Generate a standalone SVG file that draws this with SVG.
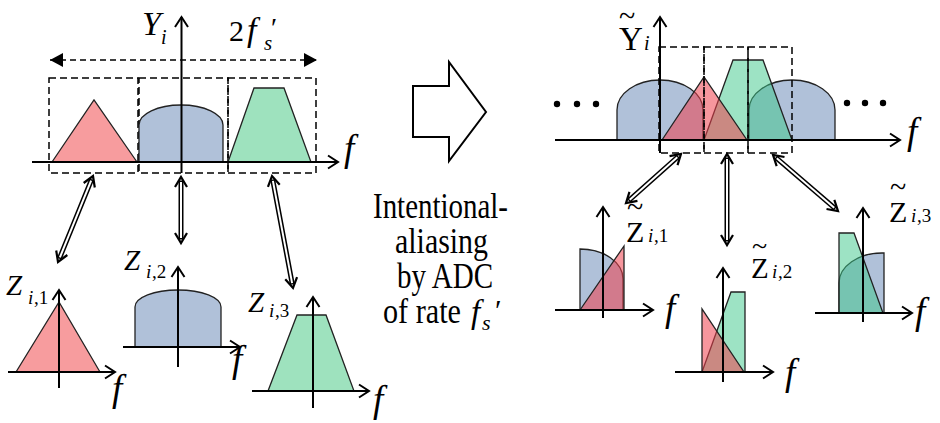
<svg xmlns="http://www.w3.org/2000/svg" width="940" height="423" viewBox="0 0 940 423">
<style>
.ax{stroke:#000;stroke-width:2;fill:none;marker-end:url(#chev)}
.dash{stroke:#000;stroke-width:1.5;fill:none;stroke-dasharray:7 4}
.sh{stroke:#222;stroke-width:1.3}
.red{fill:#F79C9E}
.blue{fill:#B0C1D9}
.green{fill:#9EE2BE}
.redT{fill:#EE3F4C;fill-opacity:0.55}
.greenT{fill:#3CC88A;fill-opacity:0.5}
.blk{stroke:#000;stroke-width:5;fill:none}
.wht{stroke:#fff;stroke-width:2;fill:none}
.tips{stroke:none;fill:none;marker-start:url(#chev2);marker-end:url(#chev2)}
text{font-family:"Liberation Serif","Times New Roman",serif;fill:#000}
.it{font-style:italic}
</style>
<defs>
<marker id="chev" markerUnits="userSpaceOnUse" markerWidth="30" markerHeight="30" viewBox="-15 -15 30 30" refX="0" refY="0" orient="auto" overflow="visible"><path d="M-10,-6.5 L0,0 L-10,6.5" fill="none" stroke="#000" stroke-width="2"/></marker>
<marker id="chev2" markerUnits="userSpaceOnUse" markerWidth="30" markerHeight="30" viewBox="-15 -15 30 30" refX="0" refY="0" orient="auto-start-reverse" overflow="visible"><path d="M-10,-6 L0,0 L-10,6" fill="none" stroke="#000" stroke-width="2.2"/></marker>
<marker id="tri" markerUnits="userSpaceOnUse" markerWidth="30" markerHeight="30" viewBox="-15 -15 30 30" refX="0" refY="0" orient="auto-start-reverse" overflow="visible"><path d="M0,0 L-13,-7 L-13,7 Z" fill="#000"/></marker>
</defs>

<!-- Left main spectrum -->
<g id="spectrum-Y">
  <rect class="dash" x="49" y="78" width="89" height="95"/>
  <rect class="dash" x="139" y="78" width="89" height="95"/>
  <rect class="dash" x="228" y="78" width="88" height="95"/>
  <path class="sh red" d="M52,162 L94,100 L137,162 Z"/>
  <path class="sh blue" d="M139,162 V125 A42,20 0 0 1 223,125 V162 Z"/>
  <path class="sh green" d="M228,162 L254,88 L284,88 L311,162 Z"/>
  <line class="ax" x1="32" y1="162" x2="338" y2="162"/>
  <line class="ax" x1="181.5" y1="173" x2="181.5" y2="17"/>
  <path d="M50,60 H317" stroke="#000" stroke-width="1.5" stroke-dasharray="6 4" fill="none" marker-start="url(#tri)" marker-end="url(#tri)"/>
  <text class="it" x="142" y="35" font-size="34">Y</text>
  <text class="it" x="161" y="44" font-size="20">i</text>
  <text x="229" y="41" font-size="30">2</text>
  <text class="it" x="247" y="41" font-size="34">f</text>
  <text class="it" x="264" y="50" font-size="21">s</text>
  <text x="271" y="37" font-size="28">′</text>
  <text class="it" x="344" y="161" font-size="37">f</text>
</g>

<g id="Z1">
  <path class="sh red" d="M16,372 L59,302 L100,372 Z"/>
  <line class="ax" x1="8" y1="372" x2="115" y2="372"/>
  <line class="ax" x1="59" y1="388" x2="59" y2="290"/>
  <text class="it" x="6" y="295" font-size="29">Z</text>
  <text class="it" x="28" y="304" font-size="19">i</text>
  <text x="34" y="304" font-size="19">,1</text>
  <text class="it" x="112" y="401" font-size="37">f</text>
</g>

<g id="Z2">
  <path class="sh blue" d="M135,347 V307 A43,17 0 0 1 221,307 V347 Z"/>
  <line class="ax" x1="123" y1="347" x2="240" y2="347"/>
  <line class="ax" x1="178" y1="367" x2="178" y2="267"/>
  <text class="it" x="124" y="270" font-size="29">Z</text>
  <text class="it" x="146" y="278" font-size="19">i</text>
  <text x="152" y="278" font-size="19">,2</text>
  <text class="it" x="232" y="372" font-size="37">f</text>
</g>

<g id="Z3">
  <path class="sh green" d="M268,391 L297,315 L326,315 L354,391 Z"/>
  <line class="ax" x1="252" y1="391" x2="369" y2="391"/>
  <line class="ax" x1="313" y1="408" x2="313" y2="297"/>
  <text class="it" x="248" y="312" font-size="29">Z</text>
  <text class="it" x="269" y="317" font-size="19">i</text>
  <text x="275" y="317" font-size="19">,3</text>
  <text class="it" x="373" y="412" font-size="37">f</text>
</g>

<!-- Middle block arrow and text -->
<g id="aliasing-arrow">
  <path d="M413,86 H449 V62 L486,112 L449,161 V137 H413 Z" fill="#fff" stroke="#000" stroke-width="2"/>
  <text x="373" y="218" font-size="36" textLength="135" lengthAdjust="spacingAndGlyphs">Intentional-</text>
  <text x="395" y="253" font-size="36" textLength="93" lengthAdjust="spacingAndGlyphs">aliasing</text>
  <text x="397" y="288" font-size="36" textLength="96" lengthAdjust="spacingAndGlyphs">by ADC</text>
  <text x="383" y="323" font-size="36" textLength="78" lengthAdjust="spacingAndGlyphs">of rate</text>
  <text class="it" x="471" y="323" font-size="33">f</text>
  <text class="it" x="482" y="330" font-size="22">s</text>
  <text x="495" y="320" font-size="30">′</text>
</g>

<!-- Right main aliased spectrum -->
<g id="spectrum-Ytilde">
  <path class="sh blue" d="M617,140 V110 A43,30 0 0 1 703,110 V140 Z"/>
  <path class="sh blue" d="M749,140 V110 A43,30 0 0 1 835,110 V140 Z"/>
  <path class="sh greenT" d="M704,140 L733,60 L763,60 L792,140 Z"/>
  <path class="sh redT" d="M662,140 L704,77 L747,140 Z"/>
  <rect class="dash" x="659" y="47" width="45" height="106"/>
  <rect class="dash" x="704" y="47" width="44" height="106"/>
  <rect class="dash" x="748" y="47" width="44" height="106"/>
  <line class="ax" x1="555" y1="140" x2="900" y2="140"/>
  <line class="ax" x1="660" y1="153" x2="660" y2="17"/>
  <circle cx="557" cy="104" r="3.2"/>
  <circle cx="577" cy="104" r="3.2"/>
  <circle cx="596" cy="104" r="3.2"/>
  <circle cx="847" cy="103" r="3.2"/>
  <circle cx="865" cy="103" r="3.2"/>
  <circle cx="883" cy="103" r="3.2"/>
  <text x="619" y="26" font-size="30">~</text>
  <text x="619" y="50" font-size="33">Y</text>
  <text class="it" x="644" y="50" font-size="20">i</text>
  <text class="it" x="907" y="144" font-size="37">f</text>
</g>

<g id="Zt1">
  <path class="sh blue" d="M580,310 V249 A43,30 0 0 1 623,279 V310 Z"/>
  <path class="sh redT" d="M580,310 L624,246 L624,310 Z"/>
  <line class="ax" x1="555" y1="310" x2="653" y2="310"/>
  <line class="ax" x1="603" y1="318" x2="603" y2="207"/>
  <text x="627" y="217" font-size="30">~</text>
  <text x="626" y="242" font-size="30">Z</text>
  <text class="it" x="648" y="242" font-size="19">i</text>
  <text x="654" y="242" font-size="19">,1</text>
  <text class="it" x="665" y="321" font-size="37">f</text>
</g>

<g id="Zt2">
  <path class="sh greenT" d="M702,372 L731,292 H745 V372 Z"/>
  <path class="sh redT" d="M702,372 V309 L744,372 Z"/>
  <line class="ax" x1="675" y1="372" x2="773" y2="372"/>
  <line class="ax" x1="723" y1="382" x2="723" y2="268"/>
  <text x="752" y="255" font-size="28">~</text>
  <text x="751" y="278" font-size="29">Z</text>
  <text class="it" x="772" y="278" font-size="19">i</text>
  <text x="778" y="278" font-size="19">,2</text>
  <text class="it" x="785" y="385" font-size="37">f</text>
</g>

<g id="Zt3">
  <path class="sh blue" d="M839,313 V283 A43,30 0 0 1 882,253 H884 V313 Z"/>
  <path class="sh greenT" d="M839,313 V233 H854 L883,313 Z"/>
  <line class="ax" x1="815" y1="313" x2="912" y2="313"/>
  <line class="ax" x1="863" y1="322" x2="863" y2="208"/>
  <text x="890" y="197" font-size="30">~</text>
  <text x="889" y="222" font-size="30">Z</text>
  <text class="it" x="911" y="222" font-size="19">i</text>
  <text x="917" y="222" font-size="19">,3</text>
  <text class="it" x="915" y="324" font-size="37">f</text>
</g>

<!-- Connectors: double-line arrows -->
<g id="connectors">
  <path class="blk" d="M91.68,179.24 L59.32,258.76"/><path class="wht" d="M91.12,180.63 L59.89,257.37"/><path class="tips" d="M93,176 L58,262"/>
  <path class="blk" d="M181,180.5 V239.5"/><path class="wht" d="M181,182 V238"/><path class="tips" d="M181,177 L181,243"/>
  <path class="blk" d="M272.64,179.44 L292.36,284.56"/><path class="wht" d="M272.92,180.92 L292.08,283.08"/><path class="tips" d="M272,176 L293,288"/>
  <path class="blk" d="M678.39,156.33 L628.61,200.67"/><path class="wht" d="M677.27,157.33 L629.73,199.67"/><path class="tips" d="M681,154 L626,203"/>
  <path class="blk" d="M727,157.5 V241.5"/><path class="wht" d="M727,159 V240"/><path class="tips" d="M727,154 L727,245"/>
  <path class="blk" d="M775.65,157.29 L835.35,208.71"/><path class="wht" d="M776.79,158.27 L834.21,207.73"/><path class="tips" d="M773,155 L838,211"/>
</g>
</svg>
